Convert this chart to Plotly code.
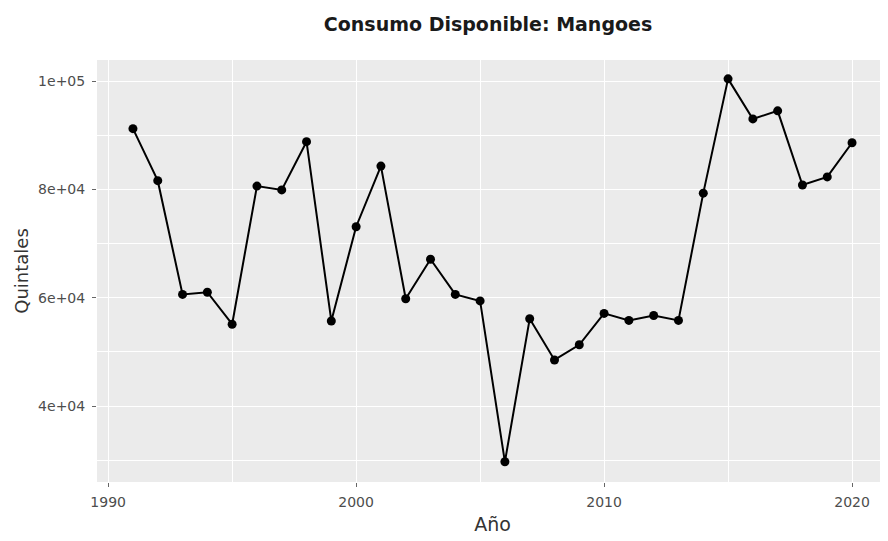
import plotly.graph_objects as go

years = list(range(1991, 2021))
consumo = [91200, 81600, 60600, 61000, 55100, 80600, 79900, 88800, 55700, 73100,
           84300, 59800, 67100, 60600, 59400, 29700, 56100, 48500, 51300, 57100,
           55800, 56700, 55800, 79300, 100400, 93000, 94500, 80800, 82300, 88600]

x_ticks = [1990, 2000, 2010, 2020]
y_ticks = [40000, 60000, 80000, 100000]
y_tick_labels = ["4e+04", "6e+04", "8e+04", "1e+05"]

font_fam = "DejaVu Sans, Verdana, sans-serif"

fig = go.Figure()
fig.add_trace(go.Scatter(
    x=years, y=consumo, mode="lines+markers",
    line=dict(color="black", width=2),
    marker=dict(color="black", size=9),
    showlegend=False,
))

# page body adds an 8px offset; figure sized to compensate
fig.update_layout(
    width=880, height=533,
    margin=dict(l=89, r=0, t=52, b=59),
    paper_bgcolor="white",
    plot_bgcolor="#EBEBEB",
    title=dict(text="<b>Consumo Disponible: Mangoes</b>", xref="container", x=0.5455,
               xanchor="center", yref="container", y=0.97, yanchor="middle",
               font=dict(family=font_fam, size=19, color="#1a1a1a")),
    font=dict(family=font_fam),
)
fig.update_xaxes(
    range=[1989.55, 2021.45],
    tickvals=x_ticks, ticktext=[str(v) for v in x_ticks],
    ticks="outside", ticklen=4, tickcolor="#666666", tickwidth=1,
    ticklabelstandoff=3,
    tickfont=dict(size=14, color="#4D4D4D"),
    showgrid=True, gridcolor="white", gridwidth=1.4,
    minor=dict(tickvals=[1995, 2005, 2015], showgrid=True, gridcolor="white", gridwidth=0.7),
    zeroline=False, showline=False, automargin=False,
    title=dict(text="Año", font=dict(size=19, color="#333333"), standoff=8),
)
fig.update_yaxes(
    range=[25970, 103880],
    tickvals=y_ticks, ticktext=y_tick_labels,
    ticks="outside", ticklen=4, tickcolor="#666666", tickwidth=1,
    ticklabelstandoff=4,
    tickfont=dict(size=14, color="#4D4D4D"),
    showgrid=True, gridcolor="white", gridwidth=1.4,
    minor=dict(tickvals=[30000, 50000, 70000, 90000], showgrid=True, gridcolor="white", gridwidth=0.7),
    zeroline=False, showline=False, automargin=False,
    title=dict(text="Quintales", font=dict(size=18, color="#333333"), standoff=4),
)

fig.write_html("out.html")
